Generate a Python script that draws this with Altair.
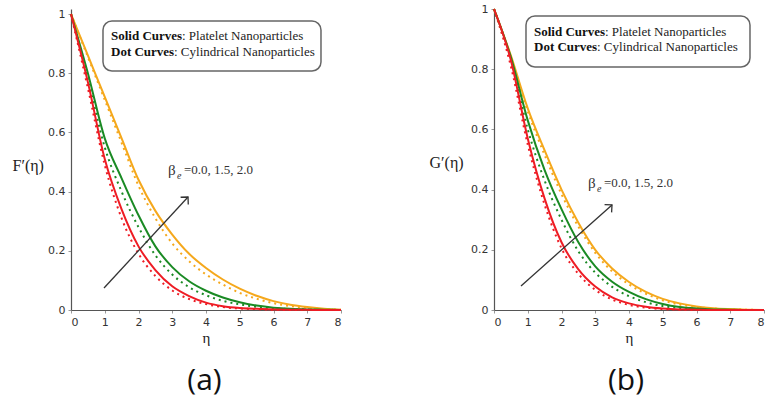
import altair as alt
import pandas as pd

# ---------------- data ----------------
eta = [0, 0.5, 1, 1.5, 2, 2.5, 3, 3.5, 4, 4.5, 5, 5.5, 6, 6.5, 7, 7.5, 8]

# Panel (a): F'(eta)
fa_red_solid = [1, 0.77, 0.51, 0.34, 0.215, 0.135, 0.08, 0.047, 0.025, 0.013, 0.007, 0.004, 0.002, 0.001, 0.0005, 0, 0]
fa_green_solid = [1, 0.80, 0.58, 0.445, 0.32, 0.215, 0.145, 0.097, 0.065, 0.042, 0.026, 0.015, 0.008, 0.004, 0.002, 0.001, 0]
fa_orange_solid = [1, 0.86, 0.72, 0.58, 0.44, 0.335, 0.255, 0.19, 0.142, 0.103, 0.072, 0.048, 0.03, 0.018, 0.01, 0.004, 0.001]
fa_red_dot = [1, 0.75, 0.49, 0.31, 0.19, 0.115, 0.066, 0.037, 0.02, 0.01, 0.005, 0.003, 0.001, 0, 0, 0, 0]
fa_green_dot = [1, 0.78, 0.55, 0.40, 0.28, 0.185, 0.12, 0.077, 0.05, 0.031, 0.019, 0.011, 0.006, 0.003, 0.002, 0.001, 0]
fa_orange_dot = [1, 0.855, 0.71, 0.565, 0.42, 0.31, 0.225, 0.165, 0.12, 0.086, 0.058, 0.038, 0.023, 0.013, 0.007, 0.003, 0.001]

# Panel (b): G'(eta)
gb_red_solid = [1, 0.83, 0.57, 0.37, 0.225, 0.135, 0.078, 0.042, 0.022, 0.011, 0.005, 0.002, 0.001, 0, 0, 0, 0]
gb_green_solid = [1, 0.84, 0.63, 0.465, 0.335, 0.225, 0.145, 0.094, 0.06, 0.036, 0.02, 0.01, 0.005, 0.002, 0.001, 0, 0]
gb_orange_solid = [1, 0.845, 0.67, 0.53, 0.40, 0.29, 0.20, 0.138, 0.093, 0.06, 0.037, 0.022, 0.012, 0.006, 0.003, 0.001, 0]
gb_red_dot = [1, 0.81, 0.55, 0.35, 0.205, 0.12, 0.067, 0.035, 0.017, 0.008, 0.003, 0.001, 0, 0, 0, 0, 0]
gb_green_dot = [1, 0.83, 0.60, 0.43, 0.30, 0.195, 0.124, 0.077, 0.046, 0.026, 0.013, 0.007, 0.003, 0.001, 0, 0, 0]
gb_orange_dot = [1, 0.84, 0.66, 0.515, 0.385, 0.277, 0.19, 0.128, 0.085, 0.054, 0.032, 0.018, 0.01, 0.005, 0.002, 0.001, 0]

series_names = ["orange", "green", "red"]
series_colors = ["#f5a81c", "#1a8a24", "#ee1c24"]

legend_bold = ["Solid Curves", "Dot Curves"]
legend_rest = [": Platelet Nanoparticles", ": Cylindrical Nanoparticles"]
beta_text = "=0.0, 1.5, 2.0"
panel_labels = ["(a)", "(b)"]
y_titles = ["F\u2032(\u03b7)", "G\u2032(\u03b7)"]


def long_df(orange, green, red):
    rows = []
    for name, vals in zip(series_names, [orange, green, red]):
        for e, v in zip(eta, vals):
            rows.append({"eta": e, "v": v, "series": name})
    return pd.DataFrame(rows)


def panel(solid, dot, ymax, ytitle, title_x, title_y, box, lines_y, text_x,
          beta_xy, arrow, head_angle, label_x, label):
    xs = alt.Scale(domain=[0, 8], nice=False)
    ys = alt.Scale(domain=[0, ymax], nice=False)
    color = alt.Color("series:N", scale=alt.Scale(domain=series_names, range=series_colors), legend=None)

    xaxis = alt.Axis(values=list(range(9)), title="\u03b7", titleY=27, titleBaseline="middle",
                     titleFont="Liberation Serif", titleFontSize=15, titleFontWeight="normal")
    yaxis = alt.Axis(values=[0, 0.2, 0.4, 0.6, 0.8, 1], title=ytitle, titleAngle=0, titleAlign="left",
                     titleBaseline="middle", titleX=title_x, titleY=title_y,
                     titleFont="Liberation Serif", titleFontSize=16, titleFontWeight="normal",
                     labelExpr="datum.value == 0 ? '0' : datum.value == 1 ? '1' : format(datum.value, '.1f')")

    def X(f):
        return alt.X(f, scale=xs, axis=xaxis)

    def Y(f):
        return alt.Y(f, scale=ys, axis=yaxis)

    dotted = alt.Chart(long_df(*dot)).mark_line(strokeWidth=2, strokeDash=[2, 4], interpolate="monotone").encode(
        x=X("eta:Q"), y=Y("v:Q"), color=color, detail="series:N")
    solid_l = alt.Chart(long_df(*solid)).mark_line(strokeWidth=2, interpolate="monotone").encode(
        x=X("eta:Q"), y=Y("v:Q"), color=color, detail="series:N")

    box_df = pd.DataFrame([{"x": box[0], "x2": box[1], "y": box[2], "y2": box[3]}])
    rect = alt.Chart(box_df).mark_rect(fill="white", stroke="#666", strokeWidth=1.5, cornerRadius=9).encode(
        x=X("x:Q"), x2="x2:Q", y=Y("y:Q"), y2="y2:Q")

    txt_df = pd.DataFrame({"x": [text_x, text_x], "y": lines_y, "b": legend_bold, "r": legend_rest})
    bold = alt.Chart(txt_df).mark_text(align="left", baseline="middle", font="Liberation Serif",
                                       fontSize=13, fontWeight="bold", color="#111").encode(
        x=X("x:Q"), y=Y("y:Q"), text="b:N")
    rest1 = alt.Chart(txt_df.iloc[[0]]).mark_text(align="left", baseline="middle", font="Liberation Serif",
                                                  fontSize=13, color="#222", dx=71).encode(
        x=X("x:Q"), y=Y("y:Q"), text="r:N")
    rest2 = alt.Chart(txt_df.iloc[[1]]).mark_text(align="left", baseline="middle", font="Liberation Serif",
                                                  fontSize=13, color="#222", dx=63).encode(
        x=X("x:Q"), y=Y("y:Q"), text="r:N")

    bdf = pd.DataFrame([{"x": beta_xy[0], "y": beta_xy[1], "b": "\u03b2", "e": "e", "t": beta_text}])
    beta = alt.Chart(bdf).mark_text(align="left", baseline="middle", font="Liberation Serif",
                                    fontSize=15, color="#333").encode(
        x=X("x:Q"), y=Y("y:Q"), text="b:N")
    sub = alt.Chart(bdf).mark_text(align="left", baseline="middle", font="Liberation Serif",
                                   fontSize=10, fontStyle="italic", color="#333", dx=9, dy=6).encode(
        x=X("x:Q"), y=Y("y:Q"), text="e:N")
    rest_b = alt.Chart(bdf).mark_text(align="left", baseline="middle", font="Liberation Serif",
                                      fontSize=13, color="#333", dx=16).encode(
        x=X("x:Q"), y=Y("y:Q"), text="t:N")

    adf = pd.DataFrame([{"x": arrow[0], "y": arrow[1], "x2": arrow[2], "y2": arrow[3]}])
    shaft = alt.Chart(adf).mark_rule(color="#333", strokeWidth=1.3).encode(
        x=X("x:Q"), y=Y("y:Q"), x2="x2:Q", y2="y2:Q")
    head = alt.Chart(adf).mark_point(shape="M -1 1 L 0 0 L 1 1", filled=False, size=110, angle=head_angle,
                                     color="#333", strokeWidth=1.3, opacity=1).encode(
        x=X("x2:Q"), y=Y("y2:Q"))

    ldf = pd.DataFrame([{"x": label_x, "t": label}])
    lab = alt.Chart(ldf).mark_text(align="center", baseline="middle", font="Open Sans",
                                   fontSize=30, color="#111").encode(
        x=X("x:Q"), y=alt.value(372), text="t:N")

    return alt.layer(dotted, solid_l, rect, bold, rest1, rest2, beta, sub, rest_b, shaft, head, lab).properties(
        width=270, height=301)


pa = panel(solid=(fa_orange_solid, fa_green_solid, fa_red_solid),
           dot=(fa_orange_dot, fa_green_dot, fa_red_dot),
           ymax=1.017, ytitle=y_titles[0], title_x=-59, title_y=156,
           box=(0.948, 7.407, 0.9765, 0.8075), lines_y=[0.9258, 0.8717], text_x=1.185,
           beta_xy=(2.874, 0.473), arrow=(0.978, 0.0743, 3.467, 0.3818), head_angle=43,
           label_x=3.956, label=panel_labels[0])

pb = panel(solid=(gb_orange_solid, gb_green_solid, gb_red_solid),
           dot=(gb_orange_dot, gb_green_dot, gb_red_dot),
           ymax=1.0, ytitle=y_titles[1], title_x=-65, title_y=153,
           box=(0.948, 7.585, 0.9767, 0.8073), lines_y=[0.9236, 0.8754], text_x=1.185,
           beta_xy=(2.785, 0.422), arrow=(0.800, 0.0797, 3.496, 0.349), head_angle=48,
           label_x=3.91, label=panel_labels[1])

chart = alt.hconcat(pa, pb, spacing=153, bounds="flush").properties(
    padding={"left": 12, "top": 3, "right": 0, "bottom": 6},
    background="white"
).configure_view(stroke=None).configure_axis(
    grid=False, domainColor="#555", domainWidth=1.2, tickColor="#999", tickSize=3,
    labelColor="#333", labelFont="DejaVu Sans", labelFontSize=11, labelPadding=3,
    titleColor="#222"
)

chart.save("out.html", embed_options={"renderer": "svg", "actions": False})
